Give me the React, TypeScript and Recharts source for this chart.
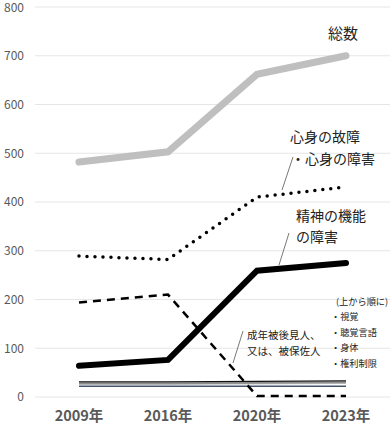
import React from "react";
import { LineChart, Line, XAxis, YAxis, CartesianGrid } from "recharts";

// 年
const years = ["2009年", "2016年", "2020年", "2023年"];

// 系列ごとの値
const total = [482, 503, 662, 700];
const shinshin = [289, 282, 410, 431];
const seishin = [64, 76, 259, 275];
const seinen = [194, 210, 2, 2];
const shikaku = [31, 31, 32, 33];
const choukaku = [28, 28, 29, 30];
const shintai = [26, 26, 27, 28];
const kenri = [22, 22, 22, 22];

const yTicks = [0, 100, 200, 300, 400, 500, 600, 700, 800];

const data = years.map((year, i) => ({
  year,
  total: total[i],
  shinshin: shinshin[i],
  seishin: seishin[i],
  seinen: seinen[i],
  shikaku: shikaku[i],
  choukaku: choukaku[i],
  shintai: shintai[i],
  kenri: kenri[i],
}));

const font = "'Noto Sans CJK JP', 'Noto Sans', sans-serif";

// 注記とリード線
function Notes() {
  return (
    <svg
      width={390}
      height={432}
      style={{ position: "absolute", left: 0, top: 0, pointerEvents: "none", fontFamily: font }}
    >
      <text x={328} y={39} fontSize={15} fill="#222">総数</text>

      <text x={290} y={142} fontSize={14} fill="#222">心身の故障</text>
      <text x={291} y={164} fontSize={14} fill="#222">・心身の障害</text>
      <line x1={293} y1={157} x2={282} y2={190} stroke="#555" strokeWidth={0.8} />

      <text x={296} y={221} fontSize={14} fill="#222">精神の機能</text>
      <text x={296} y={242} fontSize={14} fill="#222">の障害</text>
      <line x1={289} y1={233} x2={279} y2={265} stroke="#555" strokeWidth={0.8} />

      <text x={247} y={339} fontSize={10.5} fill="#222">成年被後見人、</text>
      <text x={247} y={355} fontSize={10.5} fill="#222">又は、被保佐人</text>
      <line x1={243} y1={331} x2={233} y2={363} stroke="#555" strokeWidth={0.8} />

      <text x={336} y={305} fontSize={9.2} fill="#222">(上から順に)</text>
      <text x={331} y={320} fontSize={9.2} fill="#222">・視覚</text>
      <text x={331} y={336} fontSize={9.2} fill="#222">・聴覚言語</text>
      <text x={331} y={351} fontSize={9.2} fill="#222">・身体</text>
      <text x={331} y={367} fontSize={9.2} fill="#222">・権利制限</text>
    </svg>
  );
}

export default function App() {
  return (
    <div style={{ position: "absolute", left: 0, top: 0, width: 390, height: 432, background: "#fff", fontFamily: font }}>
      <LineChart width={390} height={432} data={data} margin={{ top: 7, right: 0, bottom: 0, left: 0 }}>
        <CartesianGrid vertical={false} stroke="#e6e6e6" />
        <XAxis
          dataKey="year"
          axisLine={false}
          tickLine={false}
          tickSize={0}
          tickMargin={14}
          height={35}
          padding={{ left: 44, right: 44 }}
          tick={{ fill: "#595959", fontSize: 14.5, fontWeight: 600 }}
        />
        <YAxis
          domain={[0, 800]}
          ticks={yTicks}
          axisLine={false}
          tickLine={false}
          tickSize={0}
          tickMargin={11}
          width={35}
          tick={{ fill: "#595959", fontSize: 12 }}
        />
        <Line dataKey="shintai" stroke="#c8c8c8" strokeWidth={1.5} dot={false} isAnimationActive={false} />
        <Line dataKey="kenri" stroke="#44546a" strokeWidth={1.5} dot={false} isAnimationActive={false} />
        <Line dataKey="choukaku" stroke="#8c8c8c" strokeWidth={1.8} dot={false} isAnimationActive={false} />
        <Line dataKey="shikaku" stroke="#111" strokeWidth={1.3} dot={false} isAnimationActive={false} />
        <Line dataKey="total" stroke="#bfbfbf" strokeWidth={7} strokeLinecap="round" dot={false} isAnimationActive={false} />
        <Line
          dataKey="shinshin"
          stroke="#000"
          strokeWidth={3.5}
          strokeDasharray="0 8"
          strokeLinecap="round"
          dot={false}
          isAnimationActive={false}
        />
        <Line dataKey="seinen" stroke="#000" strokeWidth={2.5} strokeDasharray="8 6" dot={false} isAnimationActive={false} />
        <Line dataKey="seishin" stroke="#000" strokeWidth={6} strokeLinecap="round" dot={false} isAnimationActive={false} />
      </LineChart>
      <Notes />
    </div>
  );
}
